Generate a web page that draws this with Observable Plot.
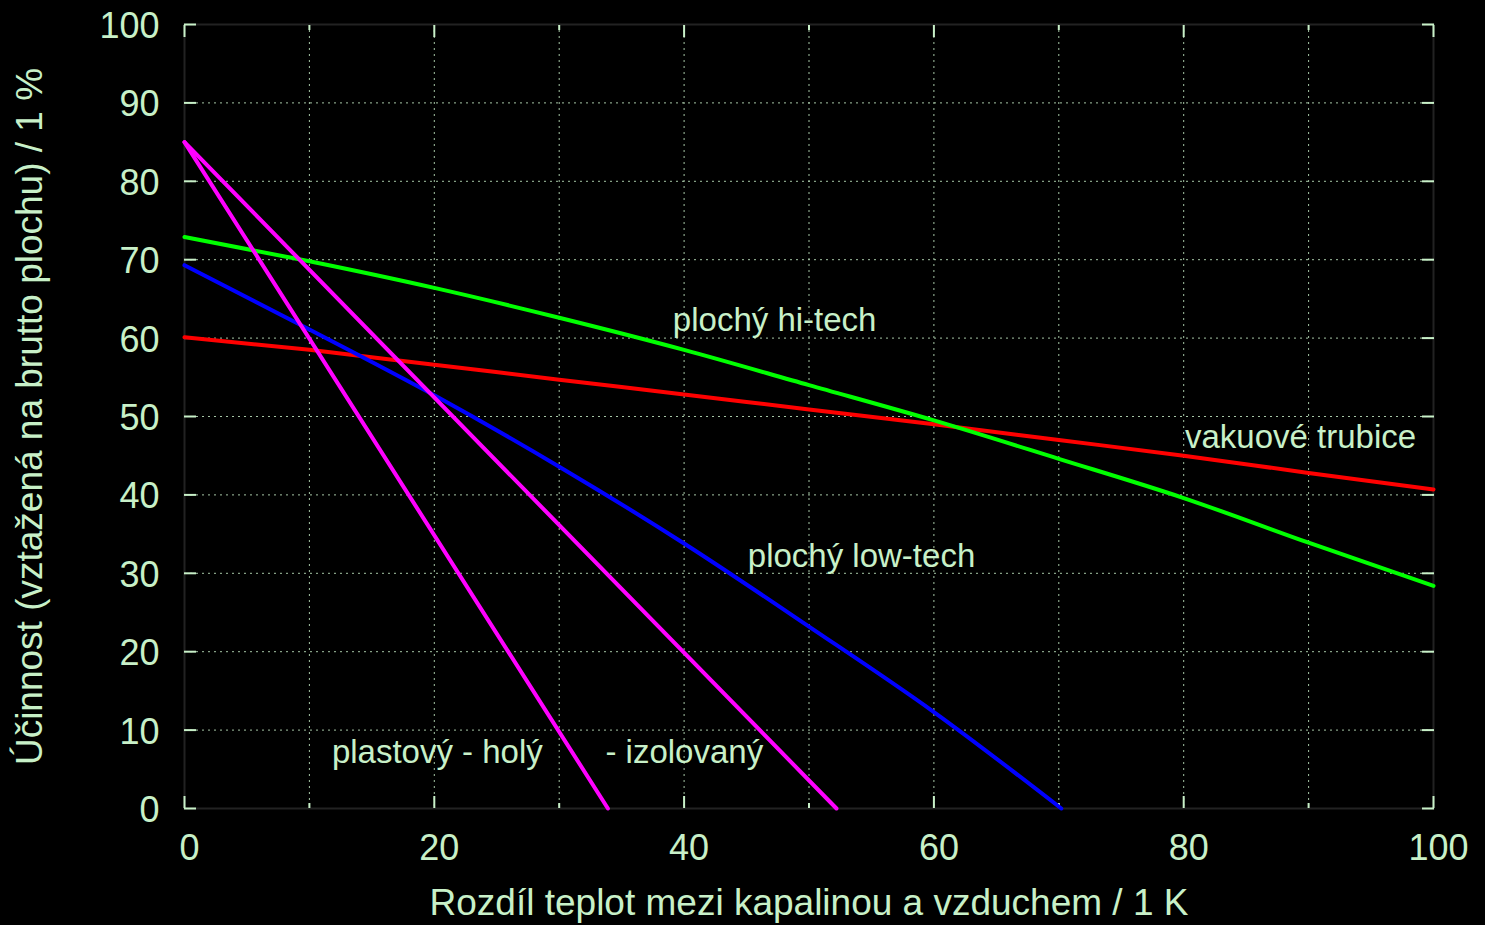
<!DOCTYPE html>
<html>
<head>
<meta charset="utf-8">
<script src="https://cdn.jsdelivr.net/npm/d3@7"></script>
<script src="https://cdn.jsdelivr.net/npm/@observablehq/plot@0.6"></script>
<style>
  html, body { margin: 0; padding: 0; background: #000; overflow: hidden; }
</style>
</head>
<body>
<div id="chart"></div>
<script>
// ---- data ----
const xs = [0, 10, 20, 30, 40, 50, 60, 70, 80, 90, 100];
const vakuove = [60.1, 58.5, 56.6, 54.7, 52.8, 50.9, 49.0, 47.0, 45.0, 42.8, 40.7];
const hitech  = [72.9, 69.8, 66.4, 62.6, 58.5, 54.0, 49.5, 44.6, 39.6, 33.9, 28.4];
const lowtechX = [0, 10, 20, 30, 40, 50, 60, 70.2];
const lowtech  = [69.3, 61.1, 52.7, 43.6, 33.8, 23.2, 12.3, 0];
const holyX = [0, 33.9];
const holy  = [85, 0];
const izolX = [0, 52.2];
const izol  = [85, 0];

const xMajor = [0, 20, 40, 60, 80, 100];
const xMinor = [10, 30, 50, 70, 90];
const xGrid = [10, 20, 30, 40, 50, 60, 70, 80, 90];
const yTicks = [0, 10, 20, 30, 40, 50, 60, 70, 80, 90, 100];
const yGrid = [10, 20, 30, 40, 50, 60, 70, 80, 90];

const labelTexts = ["plochý hi-tech", "vakuové trubice", "plochý low-tech", "plastový - holý", "- izolovaný"];
const labelX = [39.1, 80.1, 45.1, 11.8, 33.7];
const labelY = [62.2, 47.3, 32.2, 7.1, 7.1];

const xTitle = "Rozdíl teplot mezi kapalinou a vzduchem / 1 K";
const yTitle = "Účinnost (vztažená na brutto plochu) / 1 %";

// ---- build tables ----
const series = [
  {name: "vakuové trubice", color: "#ff0000", xv: xs, yv: vakuove},
  {name: "plochý hi-tech", color: "#00ff00", xv: xs, yv: hitech},
  {name: "plochý low-tech", color: "#0000ff", xv: lowtechX, yv: lowtech},
  {name: "plastový - holý", color: "#ff00ff", xv: holyX, yv: holy},
  {name: "plastový - izolovaný", color: "#ff00ff", xv: izolX, yv: izol}
];
const rows = series.flatMap(s => s.xv.map((x, i) => ({series: s.name, color: s.color, x, y: s.yv[i]})));
const labels = labelTexts.map((t, i) => ({t, x: labelX[i], y: labelY[i]}));

const FG = "#c8f0c8";
const GRID = "#b8dcb8";

const lineMarks = series.map(s =>
  Plot.line(rows.filter(r => r.series === s.name), {x: "x", y: "y", stroke: s.color, strokeWidth: 4, curve: "monotone-x"})
);

const chart = Plot.plot({
  width: 1485,
  height: 925,
  marginLeft: 184,
  marginRight: 52,
  marginTop: 24,
  marginBottom: 117,
  style: {background: "#000", color: FG, fontFamily: "'Liberation Sans', Arial, sans-serif", fontSize: "36px"},
  x: {domain: [0, 100]},
  y: {domain: [0, 100]},
  marks: [
    Plot.gridX(xGrid, {stroke: GRID, strokeOpacity: 0.9, strokeWidth: 1, strokeDasharray: "2,4"}),
    Plot.gridY(yGrid, {stroke: GRID, strokeOpacity: 0.9, strokeWidth: 1, strokeDasharray: "2,4"}),
    Plot.frame({stroke: "#222", strokeWidth: 2}),
    // inward ticks, all four sides
    Plot.axisX({anchor: "bottom", ticks: xMajor, tickSize: 12, dy: -12, stroke: FG, strokeWidth: 2, fill: "none", label: null}),
    Plot.axisX({anchor: "bottom", ticks: xMinor, tickSize: 5, dy: -5, stroke: FG, strokeWidth: 2, fill: "none", label: null}),
    Plot.axisX({anchor: "top", ticks: xMajor, tickSize: 12, dy: 12, stroke: FG, strokeWidth: 2, fill: "none", label: null}),
    Plot.axisX({anchor: "top", ticks: xMinor, tickSize: 5, dy: 5, stroke: FG, strokeWidth: 2, fill: "none", label: null}),
    Plot.axisY({anchor: "left", ticks: yTicks, tickSize: 12, dx: 12, stroke: FG, strokeWidth: 2, fill: "none", label: null}),
    Plot.axisY({anchor: "right", ticks: yTicks, tickSize: 12, dx: -12, stroke: FG, strokeWidth: 2, fill: "none", label: null}),
    // tick labels
    Plot.text(xMajor, {x: d => d, frameAnchor: "bottom", dy: 40, dx: 5, textAnchor: "middle", lineAnchor: "middle", text: d => String(d), fill: FG, fontSize: 36}),
    Plot.text(yTicks, {y: d => d, frameAnchor: "left", dx: -25, dy: 2, textAnchor: "end", lineAnchor: "middle", text: d => String(d), fill: FG, fontSize: 36}),
    // axis titles
    Plot.text([xTitle], {frameAnchor: "bottom", dy: 95, textAnchor: "middle", lineAnchor: "middle", text: d => d, fill: FG, fontSize: 37}),
    Plot.text([yTitle], {frameAnchor: "left", dx: -154, rotate: -90, textAnchor: "middle", lineAnchor: "middle", text: d => d, fill: FG, fontSize: 37}),
    // data
    ...lineMarks,
    // annotations
    Plot.text(labels, {x: "x", y: "y", text: "t", textAnchor: "start", lineAnchor: "middle", fill: FG, fontSize: 33})
  ]
});
document.getElementById("chart").appendChild(chart);
</script>
</body>
</html>
